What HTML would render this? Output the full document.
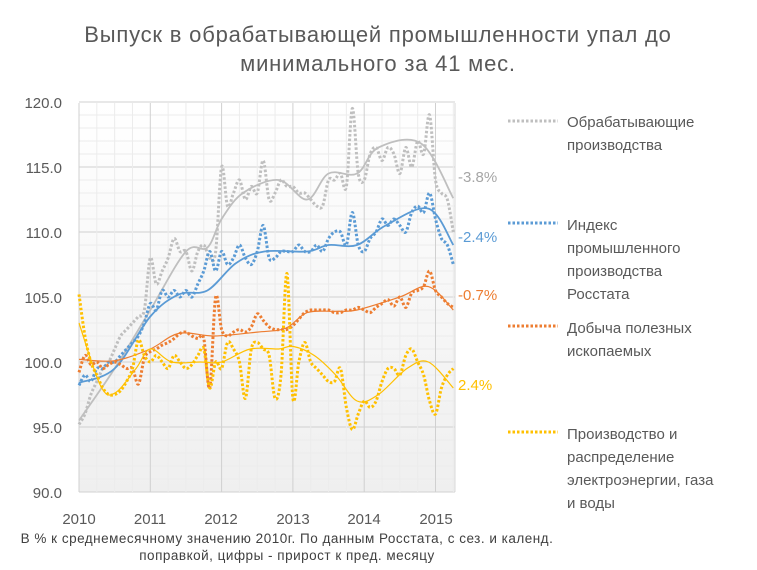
<!DOCTYPE html>
<html><head><meta charset="utf-8"><style>
body{margin:0;background:#fff;width:757px;height:570px;overflow:hidden}
svg{display:block;font-family:"Liberation Sans","DejaVu Sans",sans-serif}
</style></head><body>
<svg id="s" width="757" height="570" xmlns="http://www.w3.org/2000/svg">
<defs><linearGradient id="bg" x1="0" y1="0" x2="0" y2="1"><stop offset="0" stop-color="#fff"/><stop offset="1" stop-color="#efefef"/></linearGradient></defs>
<rect x="79" y="103" width="376" height="389" fill="url(#bg)"/>
<g id="grid"></g>
<g font-size="22" fill="#595959" text-anchor="middle" letter-spacing="0.8">
<text x="378" y="42">Выпуск в обрабатывающей  промышленности  упал до</text>
<text x="378" y="71">минимального  за 41 мес.</text>
</g>
<g font-size="15" fill="#595959" text-anchor="end">
<text x="62" y="108">120.0</text><text x="62" y="173">115.0</text><text x="62" y="238">110.0</text>
<text x="62" y="303">105.0</text><text x="62" y="368">100.0</text><text x="62" y="433">95.0</text><text x="62" y="498">90.0</text>
</g>
<g font-size="15" fill="#595959" text-anchor="middle">
<text x="79" y="524">2010</text><text x="150" y="524">2011</text><text x="221" y="524">2012</text>
<text x="293" y="524">2013</text><text x="364" y="524">2014</text><text x="436" y="524">2015</text>
</g>
<g font-size="13.5" fill="#404040" text-anchor="middle" letter-spacing="0.5">
<text x="287" y="543">В % к среднемесячному значению 2010г. По данным Росстата, с сез. и календ.</text>
<text x="287" y="560">поправкой, цифры - прирост к пред. месяцу</text>
</g>
<g id="ser"></g>
<g font-size="15">
<text x="458" y="182" fill="#a6a6a6">-3.8%</text>
<text x="458" y="242" fill="#5b9bd5">-2.4%</text>
<text x="458" y="300" fill="#ed7d31">-0.7%</text>
<text x="458" y="390" fill="#ffc000">2.4%</text>
</g>
<g stroke-width="3" stroke-dasharray="2.5 2">
<line x1="508" y1="121" x2="558" y2="121" stroke="#bfbfbf"/>
<line x1="508" y1="223" x2="558" y2="223" stroke="#5b9bd5"/>
<line x1="508" y1="326" x2="558" y2="326" stroke="#ed7d31"/>
<line x1="508" y1="432" x2="558" y2="432" stroke="#ffc000"/>
</g>
<g font-size="15" fill="#595959">
<text x="567" y="127">Обрабатывающие</text><text x="567" y="150">производства</text>
<text x="567" y="230">Индекс</text><text x="567" y="253">промышленного</text><text x="567" y="276">производства</text><text x="567" y="299">Росстата</text>
<text x="567" y="333">Добыча полезных</text><text x="567" y="356">ископаемых</text>
<text x="567" y="439">Производство и</text><text x="567" y="462">распределение</text><text x="567" y="485">электроэнергии, газа</text><text x="567" y="508">и воды</text>
</g>
</svg>
<script>
function X(t){return 79+t*71.3}
function Y(v){return 362-(v-100)*13}
var g=document.getElementById("grid"),h="";
for(var v=90;v<=120;v++){var y=Y(v);h+='<line x1="79" x2="455" y1="'+y+'" y2="'+y+'" stroke="'+(v%5==0?'#d0d0d0':'#ececec')+'" stroke-width="1"/>';}
for(var m=0;m<=63;m+=3){var x=X(m/12);h+='<line y1="103" y2="492" x1="'+x+'" x2="'+x+'" stroke="'+(m%12==0?'#d0d0d0':'#ececec')+'" stroke-width="1"/>';}
h+='<line x1="455" x2="455" y1="103" y2="492" stroke="#d9d9d9"/>';
g.innerHTML=h;
function cr(pts){var d="M"+pts[0][0]+","+pts[0][1];for(var i=0;i<pts.length-1;i++){var p0=pts[i-1]||pts[i],p1=pts[i],p2=pts[i+1],p3=pts[i+2]||p2;
d+=" C"+(p1[0]+(p2[0]-p0[0])/6)+","+(p1[1]+(p2[1]-p0[1])/6)+" "+(p2[0]-(p3[0]-p1[0])/6)+","+(p2[1]-(p3[1]-p1[1])/6)+" "+p2[0]+","+p2[1];}return d}
function monthly(a){return a.map(function(v,i){return [X(i/12),Y(v)]})}
function trend(a){return a.map(function(p){return [X(p[0]),Y(p[1])]})}
var S=[
{c:"#bfbfbf",m:[95.2,96,97.5,98.5,99.5,100,101,102,102.5,103,103.5,104,108,106,107,108,109.5,108.5,108.5,107,108.5,109,108,108.5,115,112,113,114,112.5,113.5,113,115.5,112.5,113,114,113.5,113.5,113,113,112.5,112,112,114,114,114.5,113.5,119.5,114.5,114,116,116.5,115.5,116.5,116,114.5,116.5,115,117,116,119,114,113,112.5,110],
t:[[0,95.5],[0.5,99.5],[1,104],[1.5,108.5],[1.8,108.8],[2,111],[2.3,113],[2.8,114],[3.2,112.5],[3.5,114.5],[3.9,114.5],[4.2,116.5],[4.8,116.8],[5.25,112.6]]},
{c:"#5b9bd5",m:[98.2,99,98.5,99.5,99.5,100,100,100.5,101,101.5,102,103,104.5,104,105.5,105,105.5,105,105.5,105,106,107,108.5,107,108.5,107.5,108,109,108,107.5,108.5,110.5,108,108,108.5,108.5,108.5,109,108.5,108.5,109,108.5,109.5,110,110,109,111.5,109,108.5,109.5,110,111,110.5,111,110.5,110,111.5,112,111.5,113,111,109.5,109,107.5],
t:[[0,98.4],[0.5,99.5],[1,103.5],[1.4,105.2],[1.8,105.5],[2.2,107.6],[2.6,108.5],[3.2,108.5],[3.5,109],[3.9,109],[4.3,110.5],[4.9,111.8],[5.25,109]]},
{c:"#ed7d31",m:[99.2,100.5,99.8,100,99.5,99.8,100,99.8,99.5,99.5,98.3,100.3,100.8,101,101.3,101.5,101.8,102.2,102.3,102,101.8,101.8,98,105,102.5,102,102.3,102.5,102.3,102.7,103.7,103.2,102.7,102.5,102.5,102.5,102.8,103.3,103.8,104,104,104,104,103.8,103.8,104,104,104.2,104,103.8,104.2,104.5,104.8,104.3,105,104.2,105.3,105.5,105.8,107,105.5,105,104.5,104.2],
t:[[0,100.2],[0.5,100.1],[1,101],[1.4,102.2],[1.9,102],[2.5,102.3],[2.9,102.6],[3.2,103.8],[3.6,103.9],[3.9,104],[4.5,105],[4.9,105.8],[5.25,104]]},
{c:"#ffc000",m:[105.2,102,100,99,98,97.5,97.5,97.8,98.5,99.5,101.7,100.5,100,100.5,100,99.5,100.5,100,99.5,99.8,100.5,101,98,100,99.5,101.5,101,100,97.2,101,101.5,101,100.5,97.2,99,106.8,97.2,100,101.5,100,99.5,99,98.5,98.5,99.5,96.5,94.8,96,97,96.5,97,98.5,99.5,99.5,99,100.5,101,100,99,97,96,98,99,99.5],
t:[[0,103],[0.3,98.2],[0.5,97.6],[0.8,99.5],[1,101],[1.3,100],[1.7,100],[2,100],[2.4,101],[2.8,101],[3,101.2],[3.3,100.5],[3.6,99],[3.9,97],[4.2,97.5],[4.6,99.5],[4.9,100],[5.25,98]]}];
var sg=document.getElementById("ser"),o="";
S.forEach(function(s){o+='<path d="'+cr(monthly(s.m))+'" fill="none" stroke="'+s.c+'" stroke-width="3" stroke-dasharray="2.5 2"/>';
o+='<path d="'+cr(trend(s.t))+'" fill="none" stroke="'+s.c+'" stroke-width="'+(s.c=="#ffc000"||s.c=="#ed7d31"?1.2:1.8)+'"/>';});
sg.innerHTML=o;
</script>
</body></html>
